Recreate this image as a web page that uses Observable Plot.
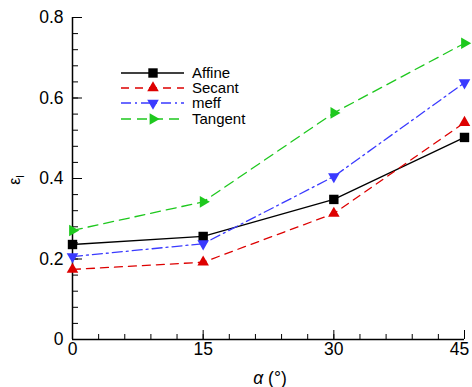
<!DOCTYPE html>
<html><head><meta charset="utf-8">
<script src="https://cdn.jsdelivr.net/npm/d3@7"></script>
<script src="https://cdn.jsdelivr.net/npm/@observablehq/plot@0.6"></script>
<style>
html,body{margin:0;padding:0;background:#fff;}
svg{font-family:"Liberation Sans",Arial,sans-serif;}
</style></head>
<body><div id="chart"></div>
<script>
const alpha = [0, 15, 30, 45];
const affine = [0.236, 0.256, 0.348, 0.502];
const secant = [0.174, 0.192, 0.313, 0.539];
const meff = [0.206, 0.238, 0.405, 0.638];
const tangent = [0.271, 0.342, 0.563, 0.736];
const seriesNames = ["Affine", "Secant", "meff", "Tangent"];
const xMajor = [0, 15, 30, 45];
const xMinor = d3.range(0, 46, 3);
const yMajor = [0, 0.2, 0.4, 0.6, 0.8];
const yMinor = d3.range(0, 0.81, 0.04);

const triDown = {draw(ctx, size){const s=Math.sqrt(size/(Math.sqrt(3)/4)); const h=s*Math.sqrt(3)/2; ctx.moveTo(-s/2,-h/3); ctx.lineTo(s/2,-h/3); ctx.lineTo(0,2*h/3); ctx.closePath();}};
const triRight = {draw(ctx, size){const s=Math.sqrt(size/(Math.sqrt(3)/4)); const h=s*Math.sqrt(3)/2; ctx.moveTo(-h/3,-s/2); ctx.lineTo(-h/3,s/2); ctx.lineTo(2*h/3,0); ctx.closePath();}};
const triUp = {draw(ctx, size){const s=Math.sqrt(size/(Math.sqrt(3)/4)); const h=s*Math.sqrt(3)/2; ctx.moveTo(-s/2,h/3); ctx.lineTo(s/2,h/3); ctx.lineTo(0,-2*h/3); ctx.closePath();}};

const styles = [
  {color:"#000000", dash:null, symbol:"square", r:5.3},
  {color:"#dd0000", dash:"8,6", symbol:triUp, r:4.3},
  {color:"#3a3aff", dash:"10,4,2,4", symbol:triDown, r:4.3},
  {color:"#1ec81e", dash:"10,6", symbol:triRight, r:4.3}
];
const values = [affine, secant, meff, tangent];
const data = [];
seriesNames.forEach((n,i)=>alpha.forEach((a,j)=>data.push({s:n, i, x:a, y:values[i][j]})));

const marks = [];
seriesNames.forEach((n,i)=>{
  const d = data.filter(e=>e.i===i);
  marks.push(Plot.line(d,{x:"x",y:"y",stroke:styles[i].color,strokeWidth:1.3,strokeDasharray:styles[i].dash}));
});
seriesNames.forEach((n,i)=>{
  const d = data.filter(e=>e.i===i);
  marks.push(Plot.dot(d,{x:"x",y:"y",symbol:styles[i].symbol,r:styles[i].r,fill:styles[i].color,stroke:"none"}));
});

const chart = Plot.plot({
  width:472, height:387,
  marginLeft:72, marginRight:8, marginTop:17, marginBottom:48,
  style:{fontFamily:"Liberation Sans, Arial, sans-serif", fontSize:"17.5px", color:"#000", background:"#fff"},
  x:{domain:[0,45], label:null},
  y:{domain:[0,0.8], label:null},
  marks:[
    Plot.axisX({ticks:xMajor.slice(0,-1), tickSize:0, tickPadding:3, tickFormat:d=>d, fontSize:17.5}),
    Plot.axisX({ticks:xMajor.slice(-1), tickSize:0, tickPadding:3, tickFormat:d=>d, fontSize:17.5, dx:-5}),
    Plot.axisX({ticks:xMajor, tickSize:-9, tickFormat:()=>""}),
    Plot.axisX({ticks:xMinor, tickSize:-5, tickFormat:()=>""}),
    Plot.axisY({ticks:yMajor, tickSize:0, tickPadding:9, tickFormat:d=>d===0?"0":d.toFixed(1), fontSize:17.5}),
    Plot.axisY({ticks:yMajor, tickSize:-10, tickFormat:()=>""}),
    Plot.axisY({ticks:yMinor, tickSize:-6, tickFormat:()=>""}),
    Plot.ruleY([0],{strokeWidth:1.5}),
    Plot.ruleX([0],{strokeWidth:1.5}),
    ...marks
  ]
});
document.getElementById("chart").appendChild(chart);

const svg = d3.select(chart);
// axis titles
const xt = svg.append("text").attr("x",270).attr("y",384).attr("text-anchor","middle").attr("font-size",17.5);
xt.append("tspan").attr("font-style","italic").text("α");
xt.append("tspan").text(" (°)");
const yt = svg.append("text").attr("transform","translate(20,180) rotate(-90)").attr("text-anchor","middle").attr("font-size",16);
yt.append("tspan").text("ε");
yt.append("tspan").attr("font-size",11).attr("dy",4).text("l");

// legend
const rowsY = [73, 88, 103, 119];
const g = svg.append("g");
seriesNames.forEach((n,i)=>{
  const st = styles[i];
  g.append("line").attr("x1",121).attr("x2",184).attr("y1",rowsY[i]).attr("y2",rowsY[i])
    .attr("stroke",st.color).attr("stroke-width",1.3).attr("stroke-dasharray",st.dash);
  const sym = st.symbol === "square" ? d3.symbolSquare : st.symbol;
  g.append("path").attr("d",d3.symbol(sym, st.r*st.r*Math.PI)())
    .attr("transform",`translate(153,${rowsY[i]})`).attr("fill",st.color);
  g.append("text").attr("x",192).attr("y",rowsY[i]).attr("dy","0.36em").attr("text-anchor","start").attr("font-size",15).text(n);
});
</script></body></html>
